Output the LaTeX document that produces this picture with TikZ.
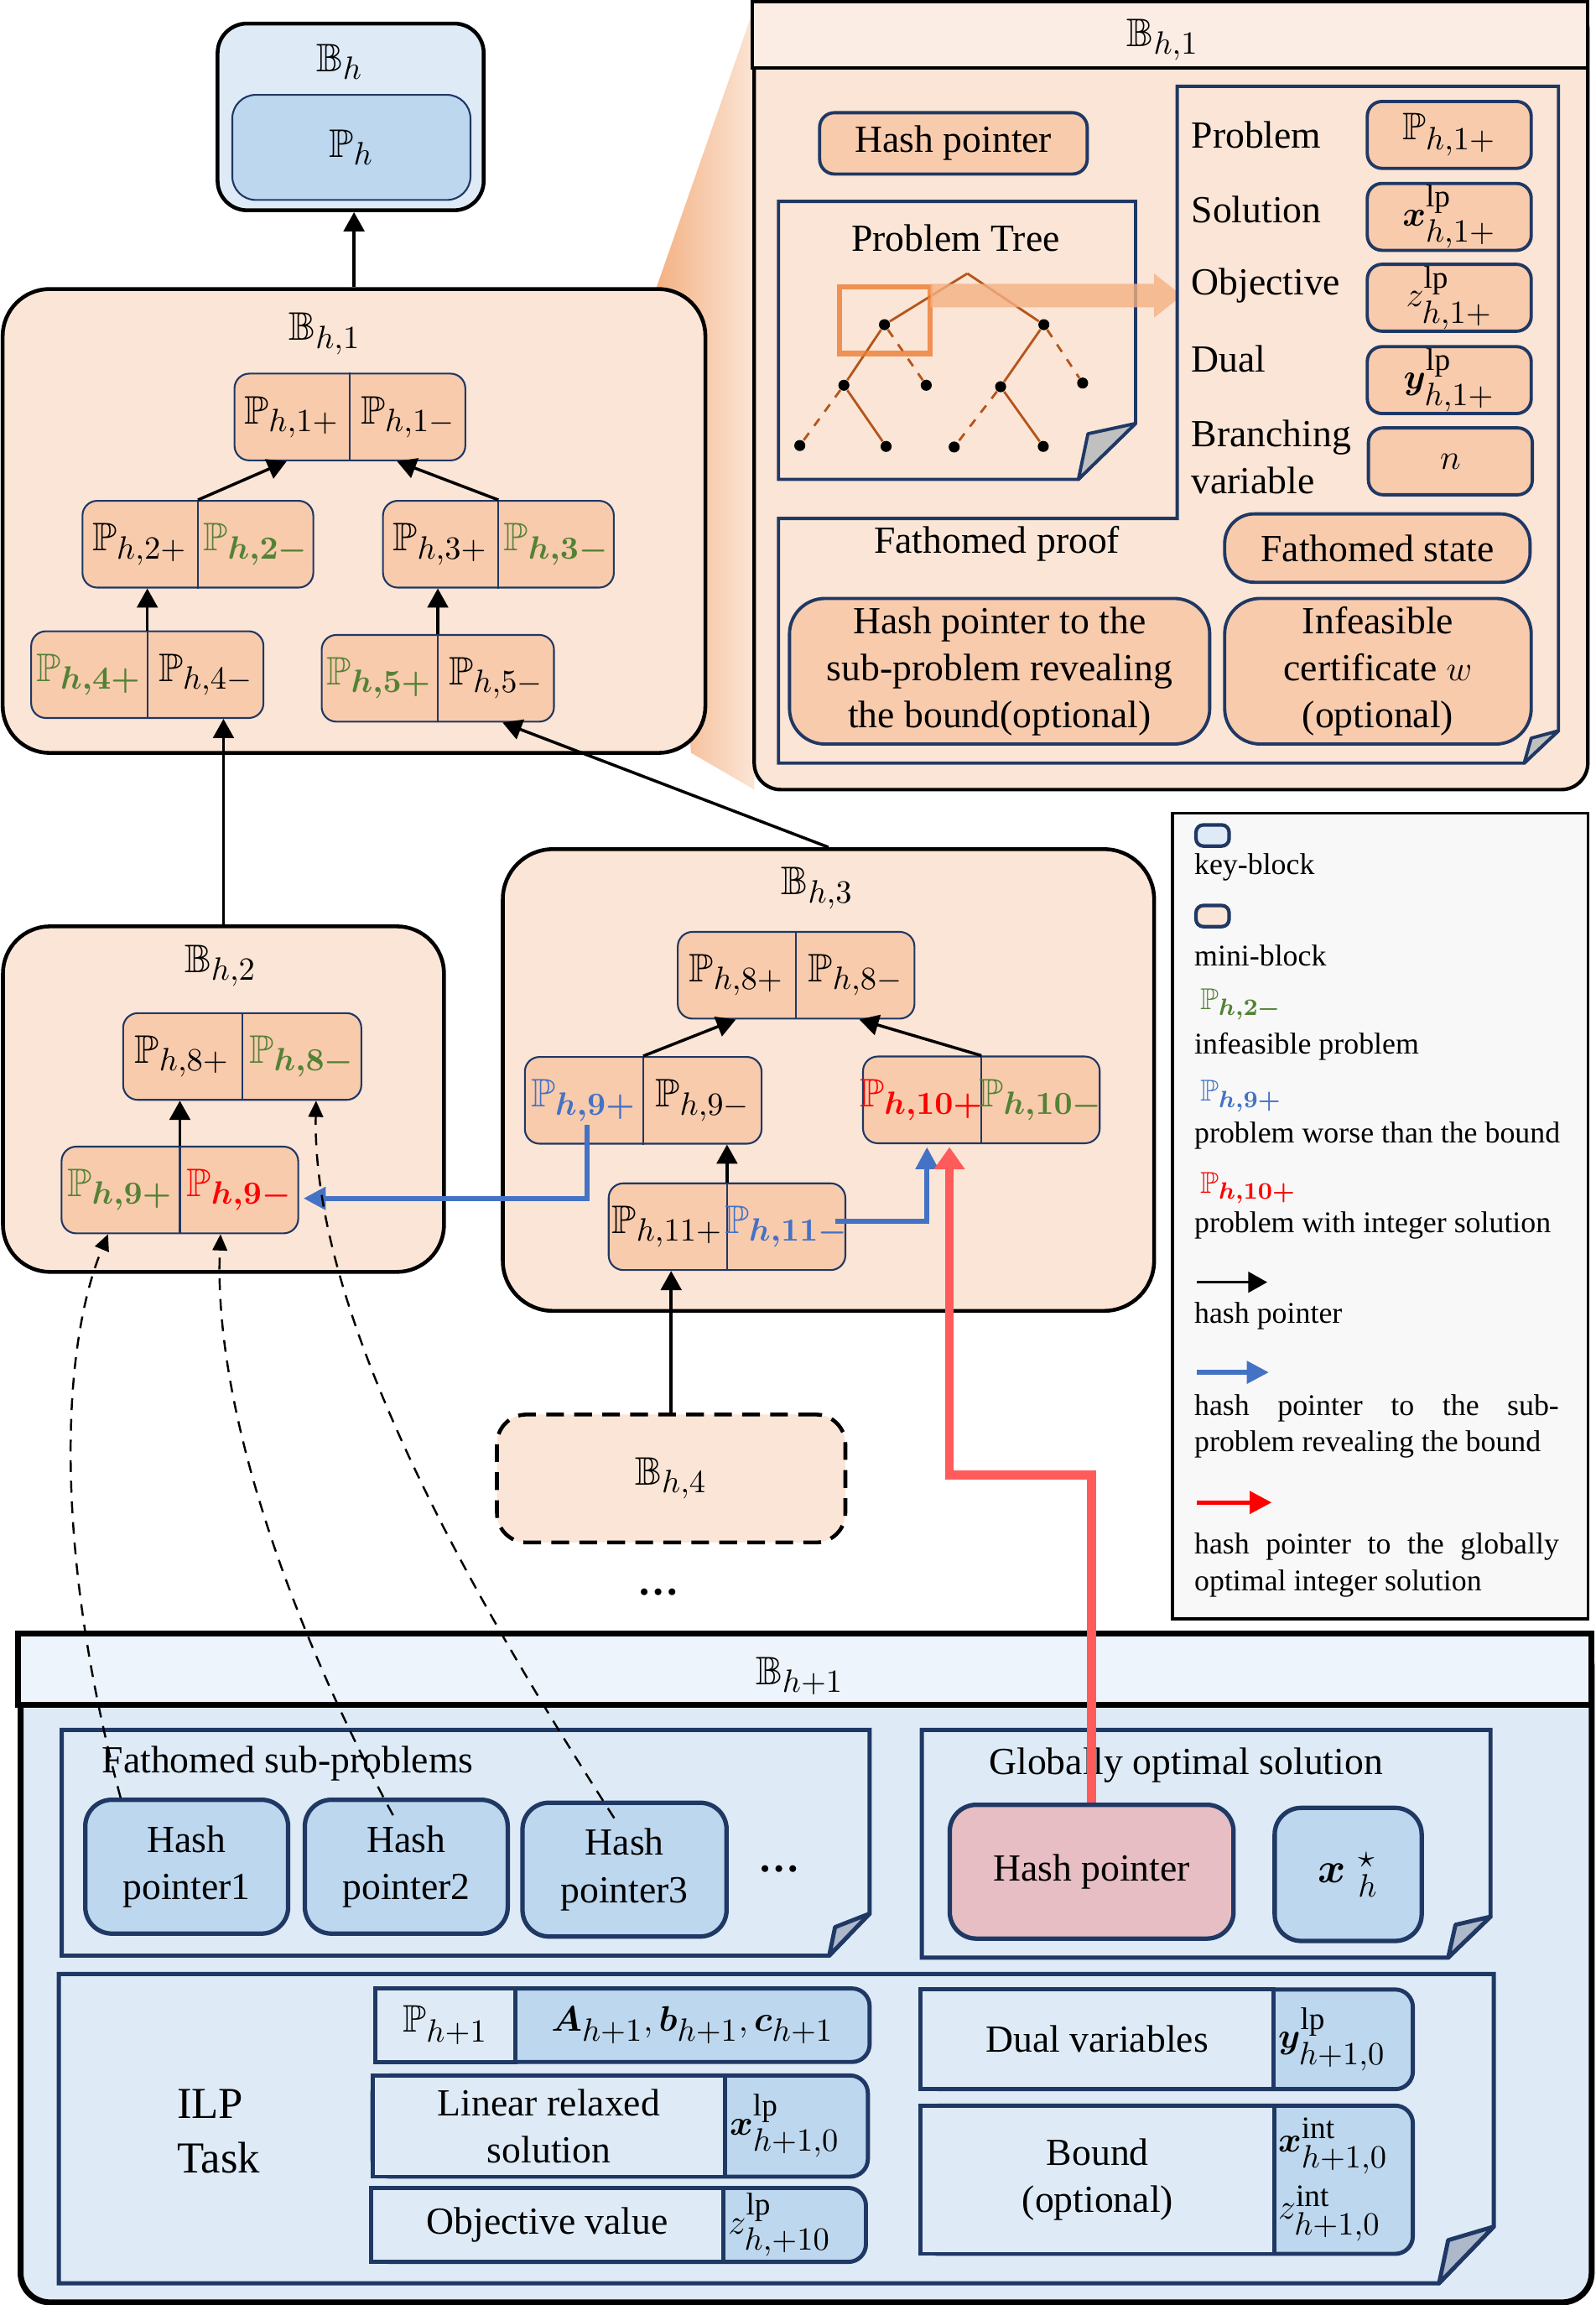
\documentclass[tikz,border=0pt]{standalone}
\usepackage{amsmath}
\usepackage{amssymb}
\usepackage{bm}
\usepackage{fontspec}
\setmainfont{Liberation Serif}
\usetikzlibrary{arrows.meta,calc}

\definecolor{navy}{HTML}{1F3864}
\definecolor{peachl}{HTML}{FBE5D6}
\definecolor{peachd}{HTML}{F8CBAD}
\definecolor{bando}{HTML}{FCEDE4}
\definecolor{bluel}{HTML}{DEEBF7}
\definecolor{blued}{HTML}{BDD7EE}
\definecolor{bandb}{HTML}{EEF4FB}
\definecolor{grn}{HTML}{548235}
\definecolor{blu}{HTML}{4472C4}
\definecolor{rd}{HTML}{FF0000}
\definecolor{rline}{HTML}{FF5B5B}
\definecolor{pinkbox}{HTML}{E6BEC3}
\definecolor{foldg}{HTML}{ADB9CA}
\definecolor{foldo}{HTML}{C0C0C0}
\definecolor{tree}{HTML}{B5551B}
\definecolor{hilite}{HTML}{ED7D31}
\definecolor{wedge}{HTML}{F4B183}
\definecolor{legbg}{HTML}{F8F8F8}

\DeclareMathSizes{13.5}{13.5}{11}{8.5}
\DeclareMathSizes{13}{13}{10.6}{8.2}
\DeclareMathSizes{10.2}{10.2}{8.4}{6.5}

\newlength{\px}
\setlength{\px}{0.01753cm}
\newcommand{\boxfont}{\fontsize{13}{16}\selectfont}
\newcommand{\legfont}{\fontsize{10.2}{12.5}\selectfont}

% a problem pair: name, centre, width, left text, right text
\newcommand{\pairbox}[5]{%
  \node[pbox, minimum width=#3\px] (#1) at (#2) {};
  \draw[navy, line width=0.6pt] (#1.north) -- (#1.south);
  \node[ptxt] (#1-l) at ($(#1.center)!0.5!(#1.west)$) {#4};
  \node[ptxt] (#1-r) at ($(#1.center)!0.5!(#1.east)$) {#5};
}

\begin{document}
\begin{tikzpicture}[x=0.01753cm, y=-0.01753cm,
    >={Triangle[length=6.5pt,width=7pt]},
    block/.style={draw, line width=1.3pt, fill=peachl, inner sep=0pt},
    pbox/.style={draw=navy, line width=0.6pt, fill=peachd, rounded corners=5pt,
                 minimum height=59\px, inner sep=0pt},
    ptxt/.style={font=\fontsize{13.5}{16}\selectfont, inner sep=0pt},
    txt/.style={font=\boxfont, align=center, inner sep=0pt},
    valbox/.style={draw=navy, line width=1.1pt, fill=peachd, rounded corners=5pt,
                   inner sep=0pt, font=\boxfont, align=center},
    bigbox/.style={valbox, rounded corners=12pt},
    note/.style={draw=navy, line width=1.1pt, fill=peachl},
    fold/.style={draw=navy, line width=1.1pt, fill=foldo, line join=round},
    bnote/.style={draw=navy, line width=1.4pt, fill=bluel},
    bfold/.style={draw=navy, line width=1.4pt, fill=foldg, line join=round},
    hbox/.style={draw=navy, line width=1.5pt, fill=blued, rounded corners=9pt,
                 inner sep=0pt, font=\boxfont, align=center},
    lcell/.style={draw=navy, line width=1.4pt, fill=bluel, inner sep=0pt,
                  font=\boxfont, align=center},
    rcell/.style={lcell, fill=blued, rounded corners=6pt},
    dot/.style={circle, fill=black, inner sep=0pt, minimum size=7.5\px},
    branch/.style={draw=tree, line width=0.8pt},
    hp/.style={->, line width=1pt},
    bp/.style={draw=blu, line width=1.7pt, -{Triangle[length=7.5pt,width=7.5pt]}},
    rp/.style={draw=rline, line width=3pt, -{Triangle[length=7.5pt,width=10pt]}},
    dp/.style={line width=0.7pt, dash pattern=on 4pt off 3pt,
               -{Triangle[length=5.5pt,width=5pt]}},
    ltxt/.style={font=\legfont, anchor=west, inner sep=0pt, align=left}]

  \useasboundingbox (0,0) rectangle (1085,1567.6);

  % zoom wedge behind B_{h,1}
  \shade[left color=wedge, right color=peachl]
    (446,197) -- (513,5) -- (513,537) -- (470,512) -- cycle;

  % key-block B_h
  \node[block, fill=bluel, rounded corners=10pt, minimum width=181\px,
        minimum height=127\px] (bh) at (238.5,79.5) {};
  \node[ptxt] (bh-t) at (231,42) {$\mathbb{B}_h$};
  \node[draw=navy, line width=0.6pt, fill=blued, rounded corners=8pt,
        minimum width=162\px, minimum height=71.5\px, inner sep=0pt,
        font=\fontsize{13.5}{16}\selectfont] (ph) at (239,100.25) {$\mathbb{P}_h$};

  % mini-block B_{h,1}
  \node[block, rounded corners=16pt, minimum width=478\px,
        minimum height=315.5\px] (bh1) at (240.8,354.3) {};
  \node[ptxt] (bh1-t) at (221,227) {$\mathbb{B}_{h,1}$};
  \pairbox{p1}{238,283.6}{157}{$\mathbb{P}_{h,1+}$}{$\mathbb{P}_{h,1-}$}
  \pairbox{p2}{134.6,370.1}{157}{$\mathbb{P}_{h,2+}$}{\textcolor{grn}{$\mathbb{P}_{\bm{h,2-}}$}}
  \pairbox{p3}{339,370.1}{157}{$\mathbb{P}_{h,3+}$}{\textcolor{grn}{$\mathbb{P}_{\bm{h,3-}}$}}
  \pairbox{p4}{100.2,458.8}{158}{\textcolor{grn}{$\mathbb{P}_{\bm{h,4+}}$}}{$\mathbb{P}_{h,4-}$}
  \pairbox{p5}{297.8,461.3}{158}{\textcolor{grn}{$\mathbb{P}_{\bm{h,5+}}$}}{$\mathbb{P}_{h,5-}$}

  \draw[hp] (bh1.north) -- (bh1.north |- bh.south);
  \draw[hp] (p2.north) -- ([xshift=-43\px]p1.south);
  \draw[hp] (p3.north) -- ([xshift=32\px]p1.south);
  \draw[hp] (p4.north) -- (p4.north |- p2.south);
  \draw[hp] (p5.north) -- (p5.north |- p3.south);

  % detail of B_{h,1}
  \node[draw, line width=1.2pt, fill=peachl, rounded corners=9pt, inner sep=0pt,
        minimum width=567\px, minimum height=535\px] (pan) at (796.5,269.5) {};
  \draw[line width=1.2pt, fill=bando] (pan.north west) rectangle (1080,46);
  \node[ptxt] (pan-t) at (791,27) {$\mathbb{B}_{h,1}$};

  \node[valbox, minimum width=182\px, minimum height=41.7\px] (hp0) at (648.5,97.5) {Hash pointer};

  \draw[note] (529.5,137) -- (772.4,137) -- (772.4,288) -- (733.5,326) -- (529.5,326) -- cycle;
  \draw[fold] (772.4,288) -- (740,295) -- (733.5,326) -- cycle;
  \node[txt] (tree-t) at (650,162) {Problem Tree};

  \coordinate (t0) at (658,186);
  \node[dot] (t1) at (601.6,220.8) {};
  \node[dot] (t2) at (710,220.8) {};
  \node[dot] (t3) at (574,262) {};
  \node[dot] (t4) at (630,262) {};
  \node[dot] (t5) at (680.6,263) {};
  \node[dot] (t6) at (736.4,260.5) {};
  \node[dot] (t7) at (544,303) {};
  \node[dot] (t8) at (602.7,303.6) {};
  \node[dot] (t9) at (649,304) {};
  \node[dot] (t10) at (709.6,303.6) {};
  \draw[branch] (t0) -- (t1);
  \draw[branch] (t0) -- (t2);
  \draw[branch] (t1) -- (t3);
  \draw[branch] (t2) -- (t5);
  \draw[branch] (t3) -- (t8);
  \draw[branch] (t5) -- (t10);
  \draw[branch, dashed] (t1) -- (t4);
  \draw[branch, dashed] (t2) -- (t6);
  \draw[branch, dashed] (t3) -- (t7);
  \draw[branch, dashed] (t5) -- (t9);

  \draw[hilite, line width=1.8pt, draw opacity=0.8] (571,195) rectangle (632.8,240.5);
  \fill[wedge, fill opacity=0.8] (633,193) -- (785,193) -- (785,186) -- (804,201)
    -- (785,216) -- (785,209) -- (633,209) -- cycle;

  \draw[note] (800.7,58.7) -- (1060,58.7) -- (1060,497) -- (1036.7,519) -- (529.5,519)
    -- (529.5,352.6) -- (800.7,352.6) -- cycle;
  \draw[fold] (1060,497) -- (1041.5,502) -- (1036.7,519) -- cycle;

  \node[txt, anchor=west] (lb1) at (810,92) {Problem};
  \node[txt, anchor=west] (lb2) at (810,142.5) {Solution};
  \node[txt, anchor=west] (lb3) at (810,194) {Objective};
  \node[txt, anchor=west] (lb4) at (810,244) {Dual};
  \node[txt, anchor=west, align=left] (lb5) at (810,311) {Branching\\variable};

  \node[valbox, minimum width=111.5\px, minimum height=45.5\px] (v1) at (985.75,91.75) {$\mathbb{P}_{h,1+}$};
  \node[valbox, minimum width=111.5\px, minimum height=45.5\px] (v2) at (985.75,147.5) {$\bm{x}^{\mathrm{lp}}_{h,1+}$};
  \node[valbox, minimum width=111.5\px, minimum height=45.5\px] (v3) at (985.75,202.5) {$z^{\mathrm{lp}}_{h,1+}$};
  \node[valbox, minimum width=111.5\px, minimum height=45.5\px] (v4) at (985.75,258.5) {$\bm{y}^{\mathrm{lp}}_{h,1+}$};
  \node[valbox, minimum width=111.5\px, minimum height=45.5\px] (v5) at (986.5,313.75) {$n$};

  \node[txt] (fpr-t) at (678,370) {Fathomed proof};
  \node[valbox, rounded corners=10pt, minimum width=207.7\px, minimum height=46.5\px] (fst) at (936.85,372.75) {Fathomed state};
  \node[bigbox, minimum width=285.8\px, minimum height=99\px] (fpr) at (679.9,456.5)
    {Hash pointer to the\\sub-problem revealing\\the bound(optional)};
  \node[bigbox, minimum width=208.5\px, minimum height=99\px] (cert) at (937.25,456.5)
    {Infeasible\\certificate $w$\\(optional)};

  % mini-block B_{h,2}
  \node[block, rounded corners=16pt, minimum width=300\px, minimum height=235\px] (bh2) at (152,747.5) {};
  \node[ptxt] (bh2-t) at (150,657) {$\mathbb{B}_{h,2}$};
  \pairbox{q8}{164.75,718.5}{162}{$\mathbb{P}_{h,8+}$}{\textcolor{grn}{$\mathbb{P}_{\bm{h,8-}}$}}
  \pairbox{q9}{122.35,809.3}{161}{\textcolor{grn}{$\mathbb{P}_{\bm{h,9+}}$}}{\textcolor{rd}{$\mathbb{P}_{\bm{h,9-}}$}}
  \draw[hp] (q9.north) -- (q9.north |- q8.south);
  \draw[hp] (bh2.north) -- (bh2.north |- p4.south);

  % mini-block B_{h,3}
  \node[block, rounded corners=17pt, minimum width=443\px, minimum height=314\px] (bh3) at (563.5,734.5) {};
  \node[ptxt] (bh3-t) at (556,604) {$\mathbb{B}_{h,3}$};
  \pairbox{r8}{541.5,663.25}{161}{$\mathbb{P}_{h,8+}$}{$\mathbb{P}_{h,8-}$}
  \pairbox{r9}{437.5,748.3}{161}{\textcolor{blu}{$\mathbb{P}_{\bm{h,9+}}$}}{$\mathbb{P}_{h,9-}$}
  \pairbox{r10}{667.5,748}{161}{\textcolor{rd}{$\mathbb{P}_{\bm{h,10+}}$}}{\textcolor{grn}{$\mathbb{P}_{\bm{h,10-}}$}}
  \pairbox{r11}{494.5,834.25}{161}{$\mathbb{P}_{h,11+}$}{\textcolor{blu}{$\mathbb{P}_{\bm{h,11-}}$}}
  \draw[hp] (r9.north) -- ([xshift=-41\px]r8.south);
  \draw[hp] (r10.north) -- ([xshift=43\px]r8.south);
  \draw[hp] (r11.north) -- (r11.north |- r9.south);
  \draw[hp] (bh3.north) -- ([xshift=44\px]p5.south);

  % mini-block B_{h,4}
  \node[block, dash pattern=on 6pt off 3.5pt, rounded corners=10pt, minimum width=237\px,
        minimum height=87\px, font=\fontsize{13.5}{16}\selectfont] (bh4) at (456.5,1005.5) {$\mathbb{B}_{h,4}$};
  \draw[hp] (bh4.north) -- (bh4.north |- r11.south);
  \node[font=\fontsize{14}{16}\selectfont] (dots1) at (448,1083) {\textbf{\ldots}};

  \draw[bp] ([xshift=-38\px,yshift=-16.7\px]r9.center) |- ([xshift=3\px,yshift=-5.7\px]q9.east);
  \draw[bp] ([xshift=73.5\px,yshift=3.75\px]r11.center) -| ([xshift=-37\px,yshift=-2\px]r10.south);

  % legend
  \node[draw, line width=1pt, fill=legbg, minimum width=282.4\px, minimum height=548\px,
        inner sep=0pt] (leg) at (938.8,827) {};
  \node[draw=navy, line width=1.2pt, fill=bluel, rounded corners=2.5pt, minimum width=22.5\px,
        minimum height=14.4\px, inner sep=0pt] (sw1) at (824.75,568.2) {};
  \node[ltxt] (lt1) at (812,590) {key-block};
  \node[draw=navy, line width=1.2pt, fill=peachl, rounded corners=2.5pt, minimum width=22.5\px,
        minimum height=14.4\px, inner sep=0pt] (sw2) at (824.75,623) {};
  \node[ltxt] (lt2) at (812,650) {mini-block};
  \node[ltxt] (lt3) at (816,683) {\textcolor{grn}{$\mathbb{P}_{\bm{h,2-}}$}};
  \node[ltxt] (lt4) at (812,712) {infeasible problem};
  \node[ltxt] (lt5) at (816,745.5) {\textcolor{blu}{$\mathbb{P}_{\bm{h,9+}}$}};
  \node[ltxt] (lt6) at (812,772.5) {problem worse than the bound};
  \node[ltxt] (lt7) at (816,808) {\textcolor{rd}{$\mathbb{P}_{\bm{h,10+}}$}};
  \node[ltxt] (lt8) at (812,833.5) {problem with integer solution};
  \coordinate (la1) at (814,872);
  \coordinate (la2) at (862,872);
  \draw[hp] (la1) -- (la2);
  \node[ltxt] (lt9) at (812,895) {hash pointer};
  \coordinate (lb1) at (814,933.3);
  \coordinate (lb2) at (863,933.3);
  \draw[bp, line width=1.5pt] (lb1) -- (lb2);
  \node[ltxt] (lt10) at (812,970) {\makebox[248\px][s]{hash pointer to the sub-}\\problem revealing the bound};
  \coordinate (lc1) at (814,1021.8);
  \coordinate (lc2) at (865,1021.8);
  \draw[draw=rd, line width=1.5pt, -{Triangle[length=7.5pt,width=7.5pt]}] (lc1) -- (lc2);
  \node[ltxt] (lt11) at (812,1064.5) {\makebox[248\px][s]{hash pointer to the globally}\\optimal integer solution};

  % key-block B_{h+1}
  \node[draw, line width=2pt, fill=bluel, rounded corners=10pt, minimum width=1068.6\px,
        minimum height=452.8\px, inner sep=0pt] (bhn) at (548.3,1339.4) {};
  \draw[line width=2pt, fill=bandb] (bhn.north west) rectangle (1082.6,1159.5);
  \node[ptxt] (bhn-t) at (544,1140) {$\mathbb{B}_{h+1}$};

  \draw[bnote] (42,1176.5) -- (591.5,1176.5) -- (591.5,1301.4) -- (564,1330) -- (42,1330) -- cycle;
  \draw[bfold] (591.5,1301.4) -- (568,1310.6) -- (564,1330) -- cycle;
  \node[txt, anchor=west] (fsp-t) at (69,1199.6) {Fathomed sub-problems};
  \node[hbox, minimum width=138\px, minimum height=91\px] (hp1) at (127,1269.5) {Hash\\pointer1};
  \node[hbox, minimum width=138\px, minimum height=91\px] (hp2) at (276.35,1269.5) {Hash\\pointer2};
  \node[hbox, minimum width=138.8\px, minimum height=91\px] (hp3) at (424.8,1271.5) {Hash\\pointer3};
  \node[font=\fontsize{14}{16}\selectfont] (dots2) at (530,1271) {\textbf{\ldots}};

  \draw[bnote] (627,1176.5) -- (1013.8,1176.5) -- (1013.8,1303.5) -- (985,1331.3) -- (627,1331.3) -- cycle;
  \draw[bfold] (1013.8,1303.5) -- (990,1309) -- (985,1331.3) -- cycle;
  \node[txt] (gos-t) at (806.7,1200.5) {Globally optimal solution};
  \node[hbox, fill=pinkbox, minimum width=193\px, minimum height=91\px] (ghp) at (742.5,1272.9) {Hash pointer};
  \node[hbox, minimum width=100\px, minimum height=90.5\px, font=\fontsize{15}{18}\selectfont] (xs) at (917,1274.75) {$\bm{x}\;{}^{\star}_{h}$};

  \draw[bnote] (40,1342.5) -- (1016,1342.5) -- (1016,1514.3) -- (978.8,1552.8) -- (40,1552.8) -- cycle;
  \draw[bfold] (1016,1514.3) -- (985,1523.5) -- (978.8,1552.8) -- cycle;
  \node[font=\fontsize{15}{18.5}\selectfont, align=left, anchor=west, inner sep=0pt] (ilp) at (120,1449.5) {ILP\\Task};

  \node[rcell, minimum width=336.2\px, minimum height=50\px] (row1) at (423.4,1377.3) {};
  \node[lcell, minimum width=95.3\px, minimum height=50\px] (row1-l) at (302.95,1377.3) {$\mathbb{P}_{h+1}$};
  \node[txt] (row1-r) at (471,1377.3) {$\bm{A}_{h+1},\bm{b}_{h+1},\bm{c}_{h+1}$};

  \node[rcell, minimum width=337\px, minimum height=68.8\px] (row2) at (421.8,1445.9) {};
  \node[lcell, minimum width=240.1\px, minimum height=68.8\px] (row2-l) at (373.35,1445.9) {Linear relaxed\\solution};
  \node[txt, anchor=west] (row2-r) at (496,1445.9) {$\bm{x}^{\mathrm{lp}}_{h+1,0}$};

  \node[rcell, minimum width=336.5\px, minimum height=50.3\px] (row3) at (420.75,1513.15) {};
  \node[lcell, minimum width=239.7\px, minimum height=50.3\px] (row3-l) at (372.35,1513.15) {Objective value};
  \node[txt, anchor=west] (row3-r) at (495,1513.15) {$z^{\mathrm{lp}}_{h,+10}$};

  \node[rcell, minimum width=334.7\px, minimum height=67.8\px] (row4) at (793.65,1386.9) {};
  \node[lcell, minimum width=239.9\px, minimum height=67.8\px] (row4-l) at (746.25,1386.9) {Dual variables};
  \node[txt, anchor=west] (row4-r) at (869,1386.9) {$\bm{y}^{\mathrm{lp}}_{h+1,0}$};

  \node[rcell, minimum width=334.7\px, minimum height=100.8\px] (row5) at (793.65,1482.4) {};
  \node[lcell, minimum width=240.7\px, minimum height=100.8\px] (row5-l) at (746.65,1482.4) {Bound\\(optional)};
  \node[txt, anchor=west, align=left, font=\fontsize{13}{16}\selectfont] (row5-r) at (869,1482.4)
    {$\bm{x}^{\mathrm{int}}_{h+1,0}$\\[3pt]$z^{\mathrm{int}}_{h+1,0}$};

  % pointers into the tree
  \coordinate (rturn) at (742.5,1003);
  \draw[rp] (ghp.north) -- (rturn) -| ([xshift=-21.7\px,yshift=-2\px]r10.south);
  \draw[dp] ([xshift=-45\px]hp1.north) .. controls (38,1060) and (40,920) .. ([xshift=-48.85\px]q9.south);
  \draw[dp] ([xshift=-9\px,yshift=-12\px]hp2.north) .. controls (200,1110) and (145,960) .. ([xshift=27.65\px]q9.south);
  \draw[dp] ([xshift=-7\px,yshift=-12\px]hp3.north) .. controls (330,1100) and (212,900) .. ([xshift=50.25\px]q8.south);
\end{tikzpicture}
\end{document}
